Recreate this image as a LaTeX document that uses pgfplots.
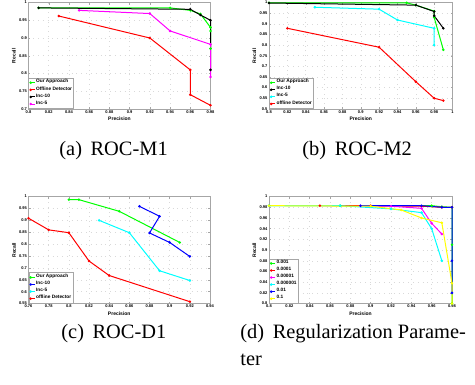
\documentclass[border=0pt]{standalone}
\usepackage{fontspec}
\setmainfont{Liberation Serif}
\newfontfamily\sansf{Liberation Sans}
\usepackage{pgfplots}
\pgfplotsset{compat=1.18}
\newcommand\tickfont{\sansf\bfseries\fontsize{2}{2.2}\selectfont}
\newcommand\labfont{\sansf\bfseries\fontsize{2.5}{3}\selectfont}
\newcommand\legfont{\sansf\bfseries\fontsize{2.4}{2.8}\selectfont}
\newcommand\capfont{\fontsize{10.2}{12}\selectfont}
\definecolor{mgreen}{RGB}{0,255,0}
\definecolor{mred}{RGB}{255,0,0}
\definecolor{mmag}{RGB}{255,0,255}
\definecolor{mcyan}{RGB}{0,255,255}
\definecolor{mblue}{RGB}{0,0,255}
\definecolor{myellow}{RGB}{255,255,0}
\pgfplotsset{
  rocstyle/.style={
    scale only axis, anchor=south west, clip=false,
    axis line style={gray!70, line width=0.3pt},
    tick style={gray!70, line width=0.2pt}, major tick length=1pt,
    tick align=inside, xtick pos=both, ytick pos=both,
    grid=major, major grid style={gray!30, dotted, line width=0.25pt},
    /pgf/number format/assume math mode=true,
    ticklabel style={font=\tickfont, inner sep=0.6pt},
    label style={font=\labfont, inner sep=0pt},
    xlabel=Precision, ylabel=Recall,
    xlabel style={at={(axis description cs:0.5,-0.095)}, anchor=center},
    ylabel style={at={(axis description cs:-0.08,0.5)}, anchor=center},
    legend style={at={(0,0)}, anchor=south west, font=\legfont, draw=gray!70,
      line width=0.2pt, inner sep=0.4pt, row sep=-0.35pt,
      nodes={inner sep=0.35pt}, cells={anchor=west}},
    legend image code/.code={
      \draw[#1, line width=0.5pt] (0pt,0pt) -- (2.3pt,0pt);
      \fill[#1] (0.2pt,0pt) circle (0.35pt);
    },
    every axis plot/.append style={line width=0.5pt, mark=*, mark size=0.35pt},
  }
}
\begin{document}
\begin{tikzpicture}
\path (0,0) rectangle (237.5pt,191.5pt);
% ---------- (a) ----------
\begin{axis}[rocstyle, at={(14.25pt,137.85pt)}, width=91pt, height=53.15pt,
  xmin=0.8, xmax=0.98, ymin=0.7, ymax=1,
  xtick={0.8,0.82,...,0.981}, ytick={0.7,0.75,...,1.01}]
\addplot[mgreen] coordinates {(0.81,0.985)(0.94,0.985)(0.96,0.978)(0.97,0.968)(0.98,0.93)(0.98,0.92)(0.98,0.87)};
\addlegendentry{Our Approach}
\addplot[mred] coordinates {(0.83,0.962)(0.92,0.90)(0.96,0.81)(0.96,0.74)(0.98,0.71)};
\addlegendentry{Offline Detector}
\addplot[black] coordinates {(0.81,0.985)(0.96,0.981)(0.97,0.965)(0.98,0.95)(0.98,0.81)};
\addlegendentry{Inc-10}
\addplot[mmag] coordinates {(0.85,0.978)(0.92,0.969)(0.94,0.92)(0.98,0.882)(0.98,0.79)};
\addlegendentry{Inc-5}
\end{axis}
% ---------- (b) ----------
\begin{axis}[rocstyle, at={(134.5pt,137.85pt)}, width=91.75pt, height=53.15pt,
  xmin=0.8, xmax=1, ymin=0.5, ymax=1,
  xtick={0.8,0.82,...,1.001}, ytick={0.5,0.55,...,1.01}]
\addplot[mgreen] coordinates {(0.80,0.999)(0.95,0.999)(0.96,0.988)(0.98,0.96)(0.98,0.93)(0.99,0.778)};
\addlegendentry{Our Approach}
\addplot[black] coordinates {(0.80,0.998)(0.96,0.988)(0.98,0.958)(0.98,0.938)(0.99,0.879)};
\addlegendentry{Inc-10}
\addplot[mcyan] coordinates {(0.85,0.978)(0.92,0.969)(0.94,0.918)(0.98,0.879)(0.98,0.80)};
\addlegendentry{Inc-5}
\addplot[mred] coordinates {(0.82,0.879)(0.92,0.79)(0.96,0.628)(0.98,0.55)(0.99,0.539)};
\addlegendentry{offline Detector}
\end{axis}
% ---------- (c) ----------
\begin{axis}[rocstyle, at={(14.25pt,40.5pt)}, width=90.75pt, height=53.5pt,
  xmin=0.76, xmax=0.94, ymin=0.55, ymax=1,
  xtick={0.76,0.78,...,0.941}, ytick={0.55,0.6,...,1.01}]
\addplot[mgreen] coordinates {(0.80,0.987)(0.81,0.987)(0.85,0.938)(0.91,0.807)};
\addlegendentry{Our Approach}
\addplot[mblue] coordinates {(0.87,0.959)(0.89,0.917)(0.88,0.847)(0.90,0.807)(0.92,0.748)};
\addlegendentry{Inc-10}
\addplot[mcyan] coordinates {(0.83,0.90)(0.86,0.848)(0.89,0.688)(0.92,0.647)};
\addlegendentry{Inc-5}
\addplot[mred] coordinates {(0.76,0.909)(0.78,0.86)(0.80,0.848)(0.82,0.729)(0.84,0.668)(0.92,0.558)};
\addlegendentry{offline Detector}
\end{axis}
% ---------- (d) ----------
\begin{axis}[rocstyle, at={(134.5pt,40.5pt)}, width=91.5pt, height=53.5pt,
  xmin=0.8, xmax=0.98, ymin=0.8, ymax=1,
  xtick={0.8,0.82,...,0.981}, ytick={0.8,0.82,...,1.001}]
\addplot[mgreen] coordinates {(0.80,0.983)(0.87,0.983)(0.96,0.983)(0.97,0.981)(0.98,0.98)(0.98,0.91)(0.98,0.80)};
\addlegendentry{0.001}
\addplot[mred] coordinates {(0.85,0.983)(0.90,0.983)(0.95,0.982)(0.97,0.98)(0.98,0.98)};
\addlegendentry{0.0001}
\addplot[mmag] coordinates {(0.89,0.983)(0.92,0.982)(0.95,0.978)(0.96,0.95)(0.97,0.93)};
\addlegendentry{0.00001}
\addplot[mcyan] coordinates {(0.80,0.983)(0.87,0.983)(0.92,0.977)(0.95,0.97)(0.96,0.94)(0.97,0.88)};
\addlegendentry{0.000001}
\addplot[mblue] coordinates {(0.89,0.983)(0.95,0.983)(0.97,0.98)(0.98,0.98)(0.98,0.88)(0.98,0.82)};
\addlegendentry{0.01}
\addplot[myellow] coordinates {(0.80,0.983)(0.90,0.982)(0.93,0.975)(0.95,0.96)(0.97,0.951)(0.98,0.838)(0.98,0.80)};
\addlegendentry{0.1}
\end{axis}
% ---------- captions ----------
\node[anchor=base west, inner sep=0pt, font=\capfont] at (29.5pt,114.5pt) {(a)\hspace{4.3pt}ROC-M1};
\node[anchor=base west, inner sep=0pt, font=\capfont] at (151pt,114.5pt) {(b)\hspace{4.3pt}ROC-M2};
\node[anchor=base west, inner sep=0pt, font=\capfont] at (30.5pt,23pt) {(c)\hspace{4.3pt}ROC-D1};
\node[anchor=base west, inner sep=0pt, font=\capfont] at (120pt,23pt) {(d)\hspace{4.3pt}Regularization Parame-};
\node[anchor=base west, inner sep=0pt, font=\capfont] at (120pt,9.5pt) {ter};
\end{tikzpicture}
\end{document}
